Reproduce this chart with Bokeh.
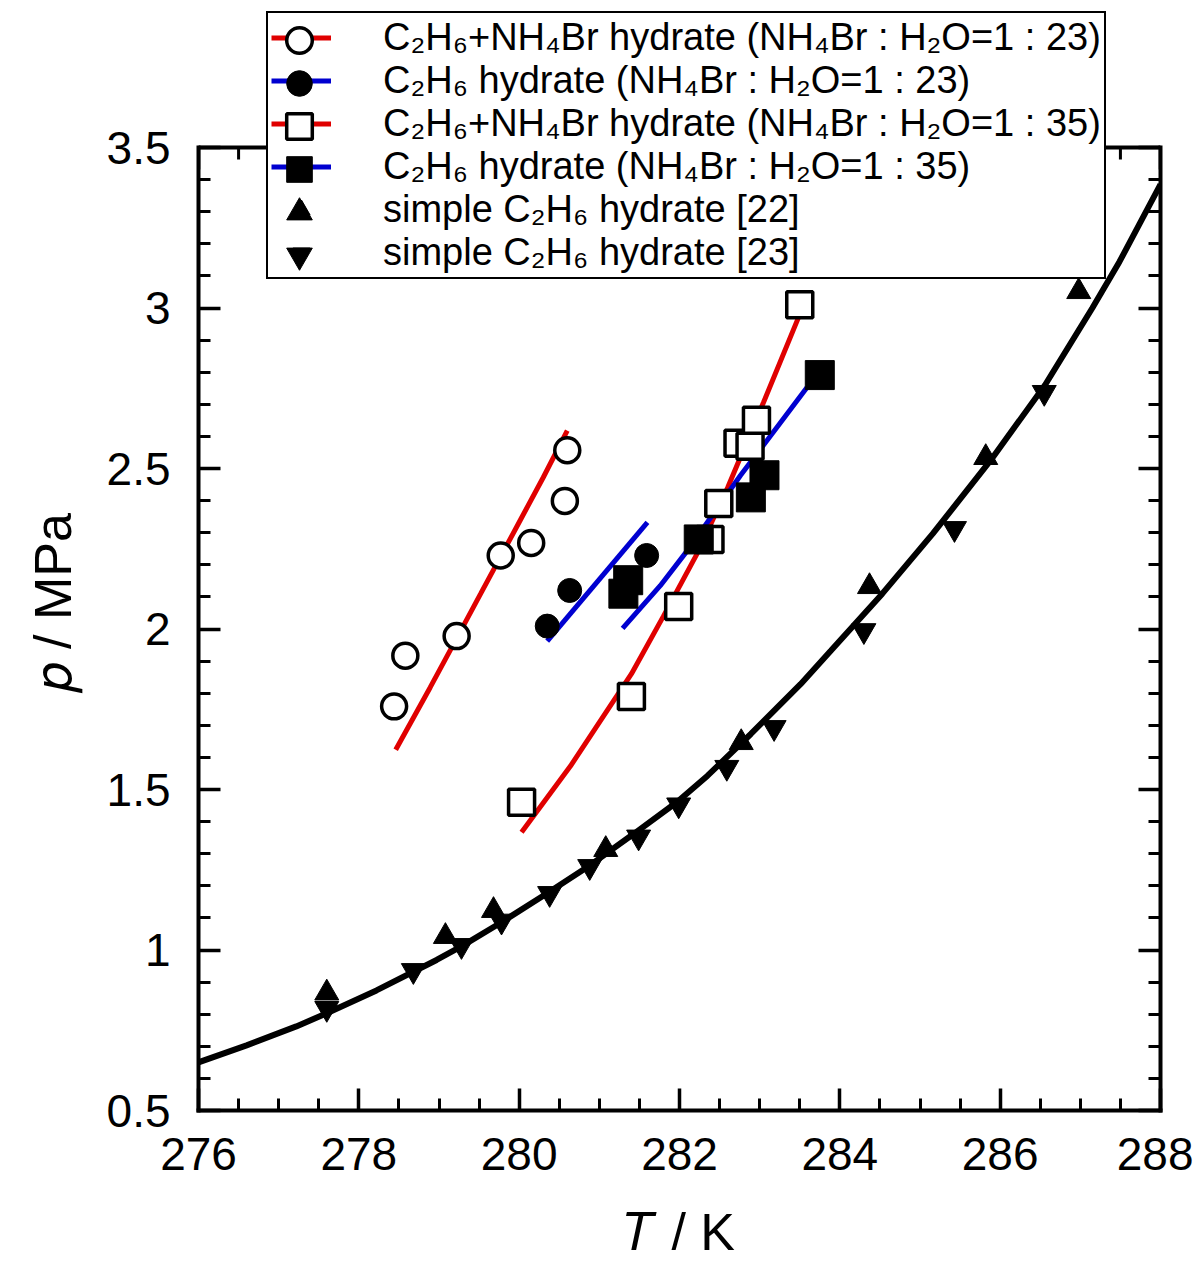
import numpy as np
from bokeh.plotting import figure
from bokeh.models import (Range1d, FixedTicker, CustomJSTickFormatter, LinearAxis,
                          Legend, LegendItem, Span)
from bokeh.embed import file_html
from bokeh.resources import INLINE

# ---------------- data ----------------
# C2H6+NH4Br hydrate (NH4Br : H2O = 1 : 23)  -- open circles
mix23_T = [278.44, 278.58, 279.22, 279.77, 280.15, 280.57, 280.60]
mix23_p = [1.759, 1.917, 1.978, 2.229, 2.268, 2.399, 2.557]
mix23_fit_T = [278.46, 278.89, 279.21, 279.52, 279.75, 280.02, 280.30, 280.60]
mix23_fit_p = [1.624, 1.818, 1.966, 2.110, 2.217, 2.342, 2.472, 2.618]

# C2H6 hydrate (NH4Br : H2O = 1 : 23)  -- filled circles
c2h6_23_T = [280.35, 280.63, 281.59]
c2h6_23_p = [2.009, 2.120, 2.229]
c2h6_23_fit_T = [280.35, 281.60]
c2h6_23_fit_p = [1.962, 2.332]

# C2H6+NH4Br hydrate (NH4Br : H2O = 1 : 35)  -- open squares
mix35_T = [280.03, 281.40, 281.99, 282.38, 282.49, 282.73, 282.88, 282.96, 283.50]
mix35_p = [1.460, 1.790, 2.070, 2.279, 2.391, 2.579, 2.569, 2.650, 3.010]
mix35_fit_T = [280.03, 280.64, 281.40, 281.80, 282.22, 282.60, 283.05, 283.50]
mix35_fit_p = [1.367, 1.573, 1.860, 2.040, 2.235, 2.440, 2.707, 2.980]

# C2H6 hydrate (NH4Br : H2O = 1 : 35)  -- filled squares
c2h6_35_T = [281.36, 281.30, 282.24, 282.89, 283.06, 283.75]
c2h6_35_p = [2.152, 2.110, 2.279, 2.410, 2.479, 2.791]
c2h6_35_fit_T = [281.29, 281.76, 282.10, 282.76, 283.59]
c2h6_35_fit_p = [2.002, 2.135, 2.245, 2.478, 2.752]

# simple C2H6 hydrate [22]  -- up triangles
ref22_T = [277.60, 279.08, 279.68, 281.08, 282.77, 284.37, 285.82, 286.98]
ref22_p = [0.866, 1.042, 1.123, 1.313, 1.646, 2.132, 2.534, 3.051]
# simple C2H6 hydrate [23]  -- down triangles
ref23_T = [277.60, 278.68, 279.28, 279.78, 280.38, 280.88, 281.49, 281.99,
           282.59, 283.18, 284.30, 285.43, 286.55]
ref23_p = [0.818, 0.936, 1.014, 1.090, 1.176, 1.260, 1.352, 1.452,
           1.569, 1.693, 1.995, 2.313, 2.737]
# simple hydrate curve (black)
simple_fit_T = [276.00, 276.60, 277.22, 277.60, 278.22, 278.97, 279.29, 279.77,
                280.35, 280.89, 281.43, 281.97, 282.35, 282.89, 283.51, 283.89,
                284.53, 285.16, 285.88, 286.56, 287.15, 287.49, 288.00]
simple_fit_p = [0.650, 0.703, 0.762, 0.803, 0.874, 0.969, 1.013, 1.085,
                1.177, 1.265, 1.362, 1.461, 1.543, 1.673, 1.828, 1.933,
                2.110, 2.297, 2.525, 2.760, 3.000, 3.145, 3.385]

x_major = [276, 278, 280, 282, 284, 286, 288]
y_major = [0.5, 1, 1.5, 2, 2.5, 3, 3.5]

legend_labels = [
    "C\u2082H\u2086+NH\u2084Br hydrate (NH\u2084Br : H\u2082O=1 : 23)",
    "C\u2082H\u2086 hydrate (NH\u2084Br : H\u2082O=1 : 23)",
    "C\u2082H\u2086+NH\u2084Br hydrate (NH\u2084Br : H\u2082O=1 : 35)",
    "C\u2082H\u2086 hydrate (NH\u2084Br : H\u2082O=1 : 35)",
    "simple C\u2082H\u2086 hydrate [22]",
    "simple C\u2082H\u2086 hydrate [23]",
]
x_title = "\U0001D447 / K"      # italic T
y_title = "\U0001D45D / MPa" + "\u00a0" * 6   # italic p (padding shifts it down a little)

# ---------------- figure ----------------
RED = "#e00000"
BLUE = "#0000d0"
FONT = "Liberation Sans"
PX_PER_MPA = 321.0
FRAME_H = 1102
y_lo, y_hi = y_major[0], y_major[-1]
y_top = y_lo + FRAME_H / PX_PER_MPA   # frame reaches above 3.5 to hold the legend

fig = figure(frame_width=962, frame_height=FRAME_H,
             x_range=Range1d(x_major[0], x_major[-1]), y_range=Range1d(y_lo, y_top),
             output_backend="svg", toolbar_location=None,
             min_border_left=198, min_border_right=33,
             min_border_top=8, min_border_bottom=150)
fig.grid.visible = False
fig.outline_line_color = None
fig.background_fill_color = "white"
fig.border_fill_color = "white"

x_minor = [float(v) for v in np.arange(276, 288.001, 0.5) if abs(v - round(v / 2) * 2) > 1e-6]
y_minor = [round(float(v), 2) for v in np.arange(0.5, 3.5001, 0.1)]


def style(ax):
    ax.axis_line_width = 4
    ax.axis_line_color = "black"
    ax.axis_line_cap = "square"
    ax.major_tick_in = 22
    ax.major_tick_out = 0
    ax.minor_tick_in = 12
    ax.minor_tick_out = 0
    ax.major_tick_line_width = 3.5
    ax.minor_tick_line_width = 3
    ax.major_tick_line_color = "black"
    ax.minor_tick_line_color = "black"


xa = fig.xaxis[0]
ya = fig.yaxis[0]
xa.ticker = FixedTicker(ticks=x_major, minor_ticks=x_minor)
ya.ticker = FixedTicker(ticks=y_major, minor_ticks=y_minor)
style(xa)
style(ya)
ya.bounds = (y_lo, y_hi)
for ax in (xa, ya):
    ax.formatter = CustomJSTickFormatter(code="return tick.toString()")
    ax.major_label_text_font = FONT
    ax.major_label_text_font_size = "46px"
    ax.major_label_text_color = "black"
    ax.axis_label_text_font = FONT
    ax.axis_label_text_font_size = "52px"
    ax.axis_label_text_font_style = "normal"
    ax.axis_label_text_color = "black"
xa.major_label_standoff = 27
ya.major_label_standoff = 28
xa.axis_label = x_title
ya.axis_label = y_title
xa.axis_label_standoff = 30
ya.axis_label_standoff = 22

right = LinearAxis(ticker=FixedTicker(ticks=y_major, minor_ticks=y_minor),
                   formatter=CustomJSTickFormatter(code="return ''"),
                   major_label_text_font_size="0px")
style(right)
right.bounds = (y_lo, y_hi)
fig.add_layout(right, "right")

# top frame edge at 3.5 with inward ticks
fig.add_layout(Span(location=y_hi, dimension="width", line_color="black", line_width=4))
fig.ray(x=x_major, y=y_hi, length=22, angle=-np.pi / 2, length_units="screen",
        line_color="black", line_width=3.5)
fig.ray(x=x_minor, y=y_hi, length=12, angle=-np.pi / 2, length_units="screen",
        line_color="black", line_width=3)

# curves
l1 = fig.line(mix23_fit_T, mix23_fit_p, line_color=RED, line_width=5)
l2 = fig.line(c2h6_23_fit_T, c2h6_23_fit_p, line_color=BLUE, line_width=5)
l3 = fig.line(mix35_fit_T, mix35_fit_p, line_color=RED, line_width=5)
l4 = fig.line(c2h6_35_fit_T, c2h6_35_fit_p, line_color=BLUE, line_width=5)
fig.line(simple_fit_T, simple_fit_p, line_color="black", line_width=6)

# markers
m1 = fig.scatter(mix23_T, mix23_p, marker="circle", size=25, fill_color="white",
                 line_color="black", line_width=3.5)
m2 = fig.scatter(c2h6_23_T, c2h6_23_p, marker="circle", size=24, fill_color="black",
                 line_color="black", line_width=1)
m3 = fig.scatter(mix35_T, mix35_p, marker="square", size=26, fill_color="white",
                 line_color="black", line_width=3.5)
m4 = fig.scatter(c2h6_35_T, c2h6_35_p, marker="square", size=29, fill_color="black",
                 line_color="black", line_width=1)
m5 = fig.scatter(ref22_T, ref22_p, marker="triangle", size=24, fill_color="black",
                 line_color="black", line_width=1)
m6 = fig.scatter(ref23_T, ref23_p, marker="inverted_triangle", size=24, fill_color="black",
                 line_color="black", line_width=1)
markers = [m1, m2, m3, m4, m5, m6]
lines = [l1, l2, l3, l4, None, None]

# ---------------- legend ----------------
LEG_X, LEG_BOTTOM = 68, 831          # frame-relative pixels of the legend box
ROW_H, LEG_PAD, GLYPH_W = 43, 3, 60
n_rows = len(legend_labels)
items = [LegendItem(label=lab, renderers=[r for r in (ln, mk) if r is not None])
         for lab, ln, mk in zip(legend_labels, lines, markers)]
legend = Legend(items=items, location=(LEG_X, LEG_BOTTOM),
                glyph_width=GLYPH_W, glyph_height=ROW_H, label_height=ROW_H, spacing=0,
                padding=LEG_PAD, margin=0,
                label_standoff=52, label_text_font=FONT, label_text_font_size="38px",
                label_text_color="black",
                border_line_color="black", border_line_width=2, border_line_alpha=1.0,
                background_fill_color="white", background_fill_alpha=1.0)
fig.add_layout(legend, "center")

# larger legend symbols drawn over the small ones (one transparent legend per row)
SYM = 64
leg_top = LEG_BOTTOM + n_rows * ROW_H + 2 * LEG_PAD
glyph_cx = LEG_X + LEG_PAD + GLYPH_W / 2
for i, mk in enumerate(markers):
    cy = leg_top - LEG_PAD - ROW_H * (i + 0.5)
    fig.add_layout(Legend(items=[LegendItem(label="", renderers=[mk])],
                          location=(glyph_cx - SYM / 2, cy - SYM / 2),
                          glyph_width=SYM, glyph_height=SYM, label_width=0,
                          label_height=0, label_standoff=0, padding=0, margin=0,
                          label_text_font_size="1px",
                          border_line_color=None, background_fill_alpha=0.0),
                   "center")

open("out.html", "w").write(file_html(fig, INLINE))
